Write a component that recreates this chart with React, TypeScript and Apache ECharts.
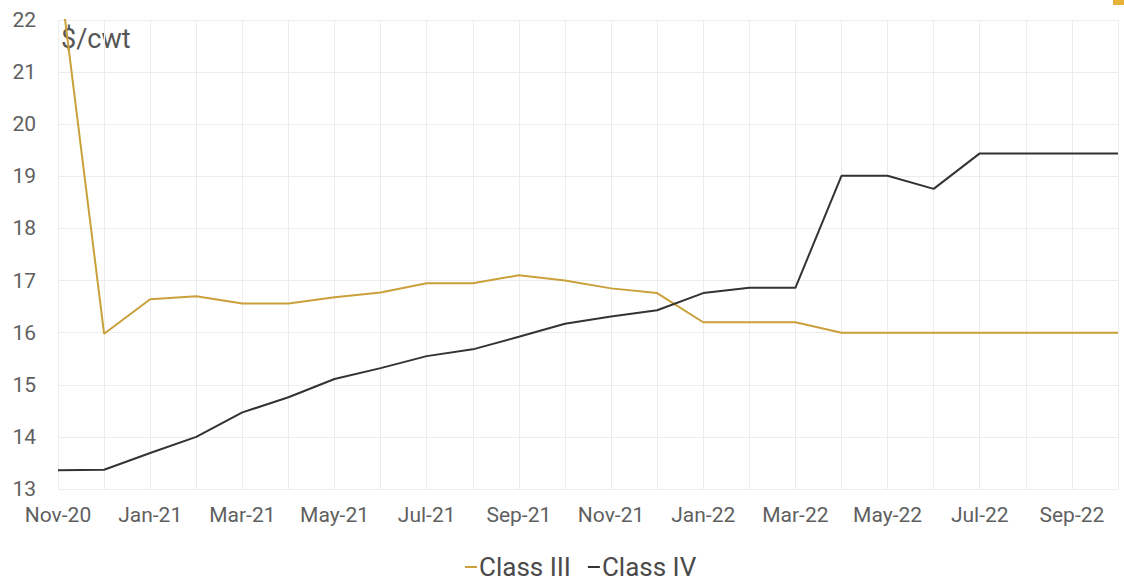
import React, { useEffect, useRef } from "react";
import * as echarts from "echarts";

const months = [
  "Nov-20", "Dec-20", "Jan-21", "Feb-21", "Mar-21", "Apr-21", "May-21", "Jun-21",
  "Jul-21", "Aug-21", "Sep-21", "Oct-21", "Nov-21", "Dec-21", "Jan-22", "Feb-22",
  "Mar-22", "Apr-22", "May-22", "Jun-22", "Jul-22", "Aug-22", "Sep-22", "Oct-22",
];

const classIII = [
  23.1, 15.98, 16.64, 16.7, 16.56, 16.56, 16.68, 16.77, 16.95, 16.95, 17.1, 17.0,
  16.85, 16.76, 16.2, 16.2, 16.2, 16.0, 16.0, 16.0, 16.0, 16.0, 16.0, 16.0,
];

const classIV = [
  13.36, 13.37, 13.69, 14.0, 14.47, 14.76, 15.11, 15.32, 15.55, 15.68, 15.92, 16.17,
  16.31, 16.43, 16.76, 16.86, 16.86, 19.01, 19.01, 18.76, 19.44, 19.44, 19.44, 19.44,
];

const GOLD = "#C9A03A";
const DARK = "#333333";
const FONT = "Roboto, 'Liberation Sans', sans-serif";

export default function App() {
  const ref = useRef<HTMLDivElement>(null);
  useEffect(() => {
    if (!ref.current) return;
    const chart = echarts.init(ref.current, undefined, { renderer: "svg" });
    chart.setOption({
      animation: false,
      backgroundColor: "#ffffff",
      textStyle: { fontFamily: FONT },
      grid: { left: 58, right: 6, top: 20, bottom: 92, containLabel: false },
      xAxis: {
        type: "category",
        data: months,
        boundaryGap: false,
        axisLine: { show: false },
        axisTick: { show: false },
        axisLabel: {
          interval: 1,
          color: "#5f5f5f",
          fontSize: 21,
          margin: 15,
          fontFamily: FONT,
        },
        splitLine: { show: true, interval: 0, lineStyle: { color: "#ececec", width: 1 } },
      },
      yAxis: {
        type: "value",
        min: 13,
        max: 22,
        interval: 1,
        axisLine: { show: false },
        axisTick: { show: false },
        axisLabel: { color: "#5f5f5f", fontSize: 21, margin: 22, fontFamily: FONT },
        splitLine: { show: true, lineStyle: { color: "#ececec", width: 1 } },
      },
      legend: {
        top: 554,
        left: 465,
        padding: 0,
        itemWidth: 12,
        itemHeight: 2,
        itemGap: 17,
        icon: "rect",
        textStyle: { color: "#4a4a4a", fontSize: 26, fontFamily: FONT, padding: [0, 0, 0, -3] },
        data: ["Class III", "Class IV"],
      },
      graphic: [
        {
          type: "text",
          left: 61,
          top: 25,
          style: { text: "$/cwt", fontSize: 27, fill: "#555555", fontFamily: FONT },
        },
        {
          type: "rect",
          shape: { x: 1113, y: 0, width: 11, height: 5 },
          style: { fill: "#E8B23A" },
        },
      ],
      series: [
        {
          name: "Class III",
          type: "line",
          data: classIII,
          symbol: "none",
          clip: true,
          lineStyle: { color: GOLD, width: 2 },
          itemStyle: { color: GOLD },
        },
        {
          name: "Class IV",
          type: "line",
          data: classIV,
          symbol: "none",
          clip: true,
          lineStyle: { color: DARK, width: 2 },
          itemStyle: { color: DARK },
        },
      ],
    });
    return () => chart.dispose();
  }, []);
  return (
    <div
      ref={ref}
      style={{ position: "absolute", left: 0, top: 0, width: 1124, height: 581 }}
    />
  );
}
